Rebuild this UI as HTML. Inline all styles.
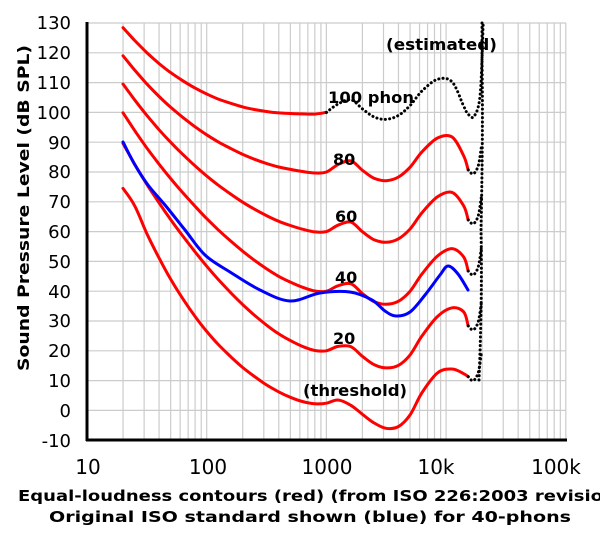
<!DOCTYPE html>
<html><head><meta charset="utf-8"><style>
body{margin:0;background:#fff}
svg{display:block;font-family:"DejaVu Sans","Liberation Sans",sans-serif}
</style></head><body>
<svg id="s" width="600" height="539" viewBox="0 0 600 539" xmlns="http://www.w3.org/2000/svg">
<g id="grid" stroke="#cccccc" stroke-width="1.2"></g>
<g id="curves" fill="none"></g>
<line x1="87" y1="22" x2="87" y2="441" stroke="#000" stroke-width="3"/>
<line x1="86" y1="440" x2="567" y2="440" stroke="#000" stroke-width="3"/>
<g font-size="18" text-anchor="end" fill="#000">
<text x="71" y="29">130</text><text x="71" y="59">120</text><text x="71" y="89">110</text>
<text x="71" y="119">100</text><text x="71" y="149">90</text><text x="71" y="178">80</text>
<text x="71" y="208">70</text><text x="71" y="238">60</text><text x="71" y="268">50</text>
<text x="71" y="298">40</text><text x="71" y="327">30</text><text x="71" y="357">20</text>
<text x="71" y="387">10</text><text x="71" y="417">0</text><text x="71" y="447">-10</text>
</g>
<g font-size="20" text-anchor="middle">
<text x="88" y="474">10</text><text x="208" y="474">100</text><text x="327" y="474">1000</text>
<text x="436" y="474">10k</text><text x="556" y="474">100k</text>
</g>
<g font-size="16" font-weight="bold">
<text x="328" y="103" textLength="86" lengthAdjust="spacingAndGlyphs">100 phon</text>
<text x="333" y="165">80</text>
<text x="335" y="222">60</text>
<text x="335" y="283">40</text>
<text x="333" y="344">20</text>
<text x="303" y="396" textLength="104" lengthAdjust="spacingAndGlyphs">(threshold)</text>
<text x="386" y="50" textLength="111" lengthAdjust="spacingAndGlyphs">(estimated)</text>
<text x="18" y="501" font-size="15" textLength="606" lengthAdjust="spacingAndGlyphs">Equal-loudness contours (red) (from ISO 226:2003 revision)</text>
<text x="49" y="522" font-size="15" textLength="522" lengthAdjust="spacingAndGlyphs">Original ISO standard shown (blue) for 40-phons</text>
<text transform="translate(29,208) rotate(-90)" text-anchor="middle" textLength="326" lengthAdjust="spacingAndGlyphs">Sound Pressure Level (dB SPL)</text>
</g>
</svg>
<script>
var NS="http://www.w3.org/2000/svg";
function X(f){return 87+119.7*Math.log10(f/10);}
function Y(d){return 23+(130-d)*2.98;}
var g=document.getElementById("grid");
function ln(x1,y1,x2,y2,p){var l=document.createElementNS(NS,"line");l.setAttribute("x1",x1);l.setAttribute("y1",y1);l.setAttribute("x2",x2);l.setAttribute("y2",y2);p.appendChild(l);return l;}
for(var d=-10;d<=130;d+=10)ln(87,Y(d),566,Y(d),g);
for(var e=10;e<=100000;e*=10)for(var k=1;k<10;k++){var f=e*k;if(f>100000)break;if(f<20&&f!=10)continue;ln(X(f),23,X(f),440,g);}
var F=[20,25,31.5,40,50,63,80,100,125,160,200,250,315,400,500,630,800,1000,1250,1600,2000,2500,3150,4000,5000,6300,8000,10000,12500];
var af=[0.532,0.506,0.480,0.455,0.432,0.409,0.387,0.367,0.349,0.330,0.315,0.301,0.288,0.276,0.267,0.259,0.253,0.250,0.246,0.244,0.243,0.243,0.243,0.242,0.242,0.245,0.254,0.271,0.301];
var Lu=[-31.6,-27.2,-23.0,-19.1,-15.9,-13.0,-10.3,-8.1,-6.2,-4.5,-3.1,-2.0,-1.1,-0.4,0.0,0.3,0.5,0.0,-2.7,-4.1,-1.0,1.7,2.5,1.2,-2.1,-7.1,-11.2,-10.7,-3.1];
var Tf=[78.5,68.7,59.5,51.1,44.0,37.5,31.5,26.5,22.1,17.9,14.4,11.4,8.6,6.2,4.4,3.0,2.2,2.4,3.5,1.7,-1.3,-4.2,-6.0,-5.4,-1.5,6.0,12.6,13.9,12.3];
var SH={26:3,27:6,28:6};
function curve(Ln){var pts=[];for(var i=0;i<F.length;i++){var A=4.47e-3*(Math.pow(10,0.025*Ln)-1.15)+Math.pow(0.4*Math.pow(10,(Tf[i]+Lu[i])/10-9),af[i]);var L=(10/af[i])*Math.log10(A)-Lu[i]+94;if(Ln==0)L=Tf[i]-(i==0?4:0);pts.push([X(F[i])+(SH[i]||0),Y(L)]);}
var last=pts[pts.length-1];pts.push([X(15000)+1,last[1]+(Ln==0?3:(Ln==100?8:14))]);return pts;}
function cr(p){var s="M"+p[0][0].toFixed(1)+","+p[0][1].toFixed(1);for(var i=0;i<p.length-1;i++){var p0=p[i-1]||p[i],p1=p[i],p2=p[i+1],p3=p[i+2]||p2;s+="C"+(p1[0]+(p2[0]-p0[0])/6).toFixed(1)+","+(p1[1]+(p2[1]-p0[1])/6).toFixed(1)+" "+(p2[0]-(p3[0]-p1[0])/6).toFixed(1)+","+(p2[1]-(p3[1]-p1[1])/6).toFixed(1)+" "+p2[0].toFixed(1)+","+p2[1].toFixed(1);}return s;}
var c=document.getElementById("curves");
function path(d,col,w,dash){var p=document.createElementNS(NS,"path");p.setAttribute("d",d);p.setAttribute("stroke",col);p.setAttribute("stroke-width",w);p.setAttribute("fill","none");p.setAttribute("stroke-linecap","round");if(dash)p.setAttribute("stroke-dasharray",dash);c.appendChild(p);}
var dot="0.1,4.2";
[0,20,40,60,80].forEach(function(Ln){var p=curve(Ln);path(cr(p),"#f00",3);var e=p[p.length-1];
path(cr([e,[e[0]+5,e[1]+4],[e[0]+10,e[1]-4],[e[0]+13,e[1]-22]]),"#000",3,dot);});
var p100=curve(100);var i1=F.indexOf(1000);
path(cr(p100.slice(0,i1+1)),"#f00",3);
var pd=p100.slice(i1);var e=pd[pd.length-1];pd.push([e[0]+6,e[1]+2]);pd.push([e[0]+12,e[1]-20]);pd.push([e[0]+15,23]);
path(cr(pd),"#000",3,dot);
path("M479,380 C481,330 482,280 481,230 C482,180 483,120 482,60 L482,23","#000",3,dot);
var b=[[123,142],[135,165],[148,185],[165,205],[185,230],[205,255],[230,272],[260,290],[290,301],[320,293],[350,292],[372,300],[385,311],[396,316],[410,312],[425,295],[440,275],[448,266],[458,274],[468,290]];
path(cr(b),"#00f",3);
</script>
</body></html>
